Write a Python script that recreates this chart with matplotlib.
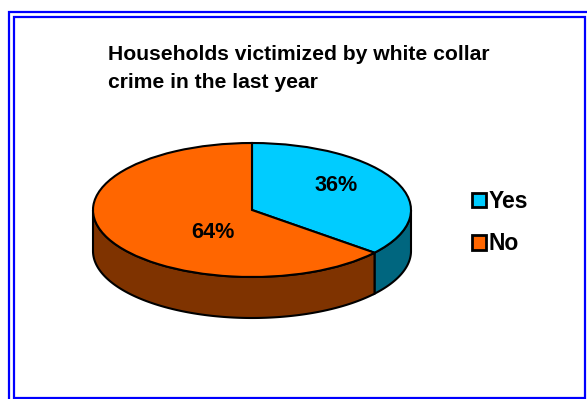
import numpy as np
import matplotlib
matplotlib.use("Agg")
import matplotlib.pyplot as plt
from matplotlib.patches import Rectangle, Polygon

# Survey shares
labels = ["Yes", "No"]
shares = [36, 64]
top_colors = ["#00CCFF", "#FF6600"]
side_colors = ["#00667F", "#7F3300"]
title_lines = ["Households victimized by white collar", "crime in the last year"]

W, H = 587, 399
fig = plt.figure(figsize=(W / 100, H / 100), dpi=100)
plt.rcParams["font.family"] = ["Liberation Sans", "DejaVu Sans"]

def px(x, y):
    """pixel (from top-left) -> figure fraction"""
    return x / W, 1 - y / H

# double blue frame
for (x0, y0, x1, y1) in [(9, 12, 592, 404), (14, 16.5, 585, 398)]:
    fx0, fy1 = px(x0, y0)
    fx1, fy0 = px(x1, y1)
    fig.patches.append(Rectangle((fx0, fy0), fx1 - fx0, fy1 - fy0,
                                 transform=fig.transFigure, fill=False,
                                 edgecolor="#0000FF", linewidth=1.6))

# pie axes: one data unit = 159 px horizontally, 67 px vertically
cx, cy, ax_px, ay_px = 252, 210, 159, 67
xl, xr, yb, yt = -1.3, 1.3, -1.9, 1.3
left, top = px(cx + xl * ax_px, cy - yt * ay_px)
right, bottom = px(cx + xr * ax_px, cy - yb * ay_px)
ax = fig.add_axes([left, bottom, right - left, top - bottom])

depth = 41 / ay_px
lw = 1.5

wedges, _, autotexts = ax.pie(
    shares, colors=top_colors, startangle=90, counterclock=False,
    autopct="%d%%", radius=1,
    wedgeprops=dict(edgecolor="black", linewidth=lw, zorder=3),
    textprops=dict(fontsize=15.6, fontweight="bold", color="black", zorder=4),
)

# side walls of the visible front half (angles 180°..360°)
for w, col in zip(wedges, side_colors):
    a, b = w.theta1, w.theta2
    for shift in (-360, 0, 360):
        s, e = max(a + shift, 180), min(b + shift, 360)
        if e <= s:
            continue
        t = np.radians(np.linspace(s, e, 200))
        xs, ys = np.cos(t), np.sin(t)
        pts = np.vstack([np.column_stack([xs, ys]),
                         np.column_stack([xs[::-1], ys[::-1] - depth])])
        ax.add_patch(Polygon(pts, closed=True, facecolor=col,
                             edgecolor="black", linewidth=lw, zorder=1))

# percentage label placement
label_pos = [(0.528, 0.373), (-0.245, -0.343)]
for t, (x, y) in zip(autotexts, label_pos):
    t.set_position((x, y))
    t.set_ha("center")
    t.set_va("center")

ax.set_aspect("auto")
ax.set_xlim(xl, xr)
ax.set_ylim(yb, yt)
ax.axis("off")

# title
for line, base in zip(title_lines, (60, 88)):
    fx, fy = px(108, base)
    fig.text(fx, fy, line, fontsize=15.2, fontweight="bold",
             va="baseline", ha="left")

# legend
lx, ly = px(472, 190)
leg = fig.legend(wedges, labels, loc="upper left", bbox_to_anchor=(lx, ly),
                 bbox_transform=fig.transFigure, frameon=False,
                 prop=dict(size=16.5, weight="bold"),
                 handlelength=0.6, handleheight=0.6, handletextpad=0.12,
                 labelspacing=0.85, borderpad=0, borderaxespad=0)
for h in leg.legend_handles:
    h.set_linewidth(2)

fig.savefig("out.png", dpi=100)
